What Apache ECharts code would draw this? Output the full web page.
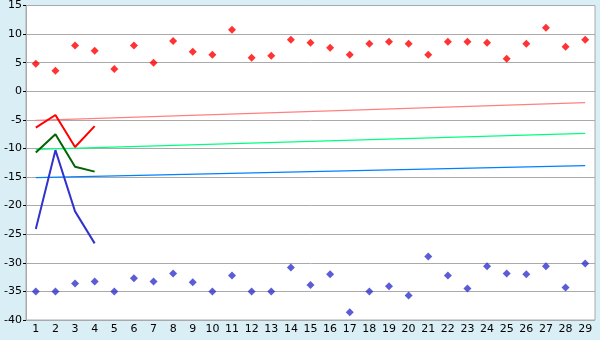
<!DOCTYPE html>
<html><head><meta charset="utf-8">
<script src="https://cdn.jsdelivr.net/npm/echarts@6/dist/echarts.min.js"></script>
<style>html,body{margin:0;padding:0;background:#d9eff5;}#c{width:600px;height:340px;}</style>
</head><body><div id="c"></div>
<script>
var categories = ['1','2','3','4','5','6','7','8','9','10','11','12','13','14','15','16','17','18','19','20','21','22','23','24','25','26','27','28','29'];
var redPoints = [4.8,3.6,8.0,7.1,3.9,8.0,5.0,8.8,6.9,6.4,10.75,5.85,6.2,9.0,8.5,7.6,6.4,8.3,8.65,8.3,6.4,8.65,8.65,8.5,5.7,8.3,11.1,7.8,9.0];
var bluePoints = [-35,-35,-33.6,-33.25,-35,-32.7,-33.25,-31.85,-33.4,-35,-32.2,-35,-35,-30.8,-33.9,-32.0,-38.65,-35,-34.1,-35.7,-28.9,-32.2,-34.5,-30.6,-31.85,-32.0,-30.6,-34.3,-30.1];
var redLine = [-6.35,-4.15,-9.75,-6.1];
var greenLine = [-10.7,-7.5,-13.2,-14.05];
var blueLine = [-24.1,-10.3,-21.0,-26.6];
var redTrend = [-5.1,-2.0];
var greenTrend = [-10.15,-7.35];
var blueTrend = [-15.1,-13.0];
var yTicks = {min:-40,max:15,interval:5};

function trend(v){ return [[0, v[0]], [categories.length-1, v[1]]]; }

var chart = echarts.init(document.getElementById('c'), null, {renderer:'canvas'});
chart.setOption({
  backgroundColor:'#d9eff5',
  animation:false,
  grid:{left:26,right:5,top:5,bottom:20,show:true,backgroundColor:'#ffffff',borderColor:'#aaaaaa',borderWidth:1},
  xAxis:{type:'category',data:categories,boundaryGap:true,
    axisLine:{lineStyle:{color:'#aaaaaa'}},
    axisTick:{alignWithLabel:true,length:4,lineStyle:{color:'#000'}},
    axisLabel:{color:'#000',fontFamily:'DejaVu Sans',fontSize:11,margin:4,interval:0},
    splitLine:{show:false}},
  yAxis:{type:'value',min:yTicks.min,max:yTicks.max,interval:yTicks.interval,
    axisLine:{show:true,lineStyle:{color:'#aaaaaa'}},
    axisTick:{show:true,length:3,lineStyle:{color:'#000'}},
    axisLabel:{color:'#000',fontFamily:'DejaVu Sans',fontSize:11,margin:4},
    splitLine:{lineStyle:{color:'#aaaaaa',width:1}}},
  series:[
    {type:'line',data:trend(redTrend),symbol:'none',lineStyle:{color:'#ff8080',width:1.2}},
    {type:'line',data:trend(greenTrend),symbol:'none',lineStyle:{color:'#00ff80',width:1.2}},
    {type:'line',data:trend(blueTrend),symbol:'none',lineStyle:{color:'#0080ff',width:1.2}},
    {type:'line',data:redLine,symbol:'none',lineStyle:{color:'#ff0000',width:2}},
    {type:'line',data:greenLine,symbol:'none',lineStyle:{color:'#006400',width:2}},
    {type:'line',data:blueLine,symbol:'none',lineStyle:{color:'#3333cc',width:2}},
    {type:'scatter',data:redPoints,symbol:'diamond',symbolSize:8,itemStyle:{color:'#ff0000'}},
    {type:'scatter',data:bluePoints,symbol:'diamond',symbolSize:8,itemStyle:{color:'#3333cc'}}
  ]
});
</script></body></html>
